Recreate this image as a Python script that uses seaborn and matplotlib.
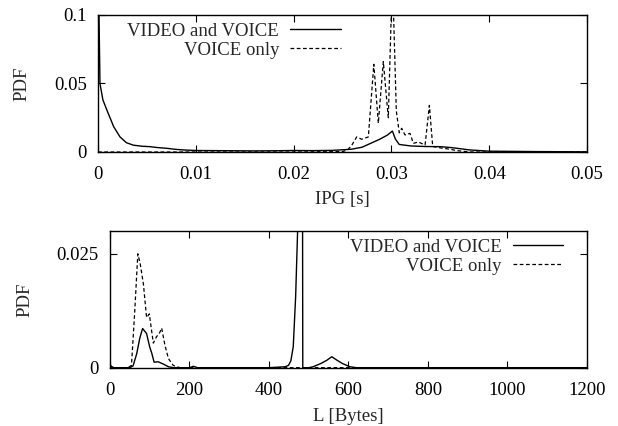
import numpy as np
import pandas as pd
import matplotlib
matplotlib.use("Agg")
import matplotlib.pyplot as plt
import seaborn as sns

# ---- data ----
# inter packet gap (IPG) PDF
ipg_both_x = [0.0, 0.0001, 0.0002, 0.0005, 0.0009, 0.0016, 0.00225, 0.0029, 0.0036,
              0.0045, 0.0053, 0.006, 0.007, 0.008, 0.0087, 0.010, 0.012, 0.014, 0.016,
              0.018, 0.020, 0.022, 0.024, 0.0259, 0.027, 0.0288, 0.0296, 0.0301, 0.0304,
              0.0308, 0.032, 0.0335, 0.035, 0.036, 0.0367, 0.038, 0.040, 0.045, 0.050]
ipg_both_y = [0.13, 0.10, 0.050, 0.038, 0.0307, 0.0185, 0.011, 0.0068, 0.005,
              0.0042, 0.0039, 0.0033, 0.0027, 0.0019, 0.0015, 0.0011, 0.0010, 0.0009, 0.0008,
              0.0009, 0.0011, 0.0010, 0.0012, 0.0020, 0.0035, 0.0093, 0.0124, 0.0153, 0.0095,
              0.0055, 0.0044, 0.0040, 0.0039, 0.0033, 0.0027, 0.0015, 0.0006, 0.0003, 0.0001]

ipg_voice_x = [0.0, 0.020, 0.025, 0.0255, 0.0259, 0.02645, 0.02696, 0.02764, 0.0282,
               0.02866, 0.02917, 0.02968, 0.0301, 0.0305, 0.0308, 0.03105, 0.03139, 0.0319,
               0.03224, 0.03275, 0.03344, 0.03388, 0.03422, 0.035, 0.036, 0.0367, 0.038, 0.050]
ipg_voice_y = [0.0, 0.0, 0.0003, 0.0015, 0.0044, 0.011, 0.0093, 0.011, 0.064,
               0.021, 0.066, 0.025, 0.13, 0.03, 0.014, 0.0173, 0.0124, 0.0136,
               0.0063, 0.0073, 0.0051, 0.034, 0.004, 0.003, 0.002, 0.001, 0.0, 0.0]

# packet length (L) PDF
len_both_x = [0, 5, 10, 50, 58, 67, 75, 82, 92, 100, 105, 111, 121, 134, 147, 160,
              200, 210, 220, 300, 400, 440, 449, 455, 461, 467, 472, 476, 484, 485,
              500, 511, 530, 545, 558, 570, 585, 604, 620, 1000, 1200]
len_both_y = [0.0006, 0.0002, 0.0, 0.0, 0.0004, 0.003, 0.0065, 0.0086, 0.0075, 0.0045, 0.0032,
              0.0012, 0.0013, 0.0008, 0.0002, 0.0,
              0.0, 0.0003, 0.0, 0.0, 0.0, 0.0002, 0.0005, 0.0015, 0.0046, 0.0155, 0.03, 0.06,
              0.06, 0.0, 0.0, 0.0002, 0.0009, 0.0016, 0.0024, 0.0017, 0.0009, 0.0002, 0.0, 0.0, 0.0]

len_voice_x = [0, 45, 54, 62, 70, 76, 84, 92, 99, 104, 109, 117, 124, 130, 138, 147,
               159, 176, 1200]
len_voice_y = [0.0, 0.0, 0.0005, 0.012, 0.025, 0.0228, 0.0184, 0.011, 0.0118, 0.0085, 0.0054,
               0.0068, 0.0075, 0.0087, 0.005, 0.002, 0.0005, 0.0, 0.0]

SOLID_LABEL = "VIDEO and VOICE"
DASHED_LABEL = "VOICE only"


def style_axis(ax):
    ax.tick_params(direction="in", length=5, width=0.8, top=True, right=True,
                   labelsize=13.5, colors="black")
    for s in ax.spines.values():
        s.set_linewidth(1.0)
        s.set_color("black")


def draw_pair(ax, bx, by, vx, vy):
    sns.lineplot(x=bx, y=by, ax=ax, color="black", lw=1.0, sort=False,
                 estimator=None, label=SOLID_LABEL)
    sns.lineplot(x=vx, y=vy, ax=ax, color="black", lw=0.9, sort=False,
                 estimator=None, linestyle=(0, (3, 2)), label=DASHED_LABEL)


sns.set_style("ticks")
plt.rcParams["font.family"] = ["Liberation Serif", "DejaVu Serif"]
plt.rcParams["font.size"] = 13.5

fig = plt.figure(figsize=(6.18, 4.26), dpi=100)
ax1 = fig.add_axes([0.1586, 0.6432, 0.7913, 0.3216])
ax2 = fig.add_axes([0.1780, 0.1369, 0.7718, 0.3208])

# top: IPG
draw_pair(ax1, ipg_both_x, ipg_both_y, ipg_voice_x, ipg_voice_y)
ax1.set_xlim(0, 0.05)
ax1.set_ylim(0, 0.1)
ax1.set_xticks([0, 0.01, 0.02, 0.03, 0.04, 0.05])
ax1.set_xticklabels(["0", "0.01", "0.02", "0.03", "0.04", "0.05"])
ax1.set_yticks([0, 0.05, 0.1])
ax1.set_yticklabels(["0", "0.05", "0.1"])
style_axis(ax1)
ax1.tick_params(axis="x", pad=10)
ax1.tick_params(axis="y", pad=8)
ax1.set_xlabel("IPG [s]", fontsize=13.5)
ax1.set_ylabel("PDF", fontsize=13.5)
ax1.xaxis.set_label_coords(0.5, -0.285)
ax1.yaxis.set_label_coords(-0.139, 0.5)
ax1.legend(loc="upper right", bbox_to_anchor=(0.497, 0.946), frameon=False,
           markerfirst=False, handlelength=2.7, handletextpad=0.6,
           labelspacing=0.1, borderpad=0, borderaxespad=0, fontsize=13.5)

# bottom: packet length
draw_pair(ax2, len_both_x, len_both_y, len_voice_x, len_voice_y)
ax2.set_xlim(0, 1200)
ax2.set_ylim(0, 0.03)
ax2.set_xticks([0, 200, 400, 600, 800, 1000, 1200])
ax2.set_yticks([0, 0.025])
ax2.set_yticklabels(["0", "0.025"])
style_axis(ax2)
ax2.tick_params(axis="x", pad=10)
ax2.tick_params(axis="y", pad=8)
ax2.set_xlabel("L [Bytes]", fontsize=13.5)
ax2.set_ylabel("PDF", fontsize=13.5)
ax2.xaxis.set_label_coords(0.5, -0.295)
ax2.yaxis.set_label_coords(-0.161, 0.5)
ax2.legend(loc="upper right", bbox_to_anchor=(0.95, 0.946), frameon=False,
           markerfirst=False, handlelength=2.7, handletextpad=0.6,
           labelspacing=0.1, borderpad=0, borderaxespad=0, fontsize=13.5)

fig.savefig("out.png", dpi=100)
